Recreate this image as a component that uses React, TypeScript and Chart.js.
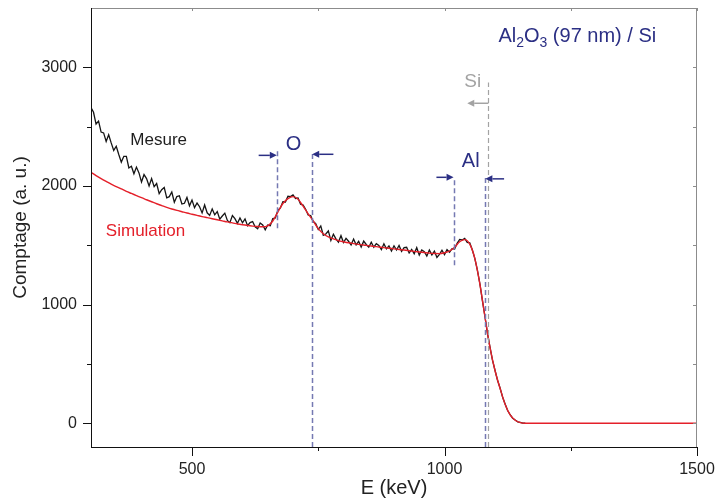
import React, { useEffect, useRef } from "react";
import { Chart, registerables } from "chart.js";

Chart.register(...registerables);

const FONT = "'Liberation Sans', Arial, Helvetica, sans-serif";

// ---- Data ----
// Measured RBS spectrum: channels every 5 keV starting at 300 keV
const MEASURED_START_KEV = 300;
const MEASURED_STEP_KEV = 5;
const measuredCounts = [
  2660, 2621, 2522, 2547, 2454, 2447, 2375, 2432, 2363, 2300,
  2335, 2265, 2201, 2250, 2249, 2152, 2166, 2103, 2159, 2110,
  2033, 2097, 2062, 2000, 2063, 1994, 2021, 1936, 1969, 1987,
  1900, 1910, 1949, 1863, 1911, 1918, 1848, 1854, 1903, 1833,
  1882, 1817, 1856, 1825, 1773, 1840, 1774, 1752, 1807, 1757,
  1784, 1720, 1747, 1771, 1710, 1691, 1750, 1725, 1685, 1730,
  1690, 1723, 1665, 1692, 1700, 1656, 1639, 1688, 1671, 1631,
  1671, 1665, 1725, 1730, 1795, 1815, 1867, 1865, 1913, 1910,
  1925, 1895, 1898, 1847, 1840, 1803, 1755, 1750, 1700, 1682,
  1633, 1663, 1585, 1595, 1622, 1541, 1593, 1554, 1527, 1581,
  1523, 1558, 1534, 1504, 1553, 1504, 1534, 1485, 1535, 1507,
  1484, 1527, 1484, 1514, 1499, 1463, 1513, 1470, 1495, 1452,
  1496, 1460, 1498, 1449, 1480, 1483, 1435, 1465, 1429, 1480,
  1418, 1461, 1446, 1410, 1460, 1419, 1451, 1397, 1423, 1458,
  1422, 1463, 1442, 1472, 1469, 1517, 1550, 1545, 1558, 1525,
  1520, 1462, 1390, 1293, 1178, 1036, 904, 758, 643, 532,
  447, 363, 297, 222, 163, 107, 72, 43, 27, 12,
  7, 2, 1,
];

// Simulated spectrum: every 10 keV from 300 keV, then flat zero to 1500 keV
const SIM_START_KEV = 300;
const SIM_STEP_KEV = 10;
const simulatedCounts = [
  2115, 2088, 2062, 2038, 2015, 1995, 1975, 1955, 1937, 1919,
  1901, 1884, 1867, 1850, 1835, 1820, 1806, 1794, 1783, 1772,
  1762, 1752, 1742, 1733, 1724, 1715, 1706, 1697, 1689, 1680,
  1673, 1667, 1662, 1658, 1656, 1664, 1705, 1780, 1852, 1893,
  1910, 1888, 1830, 1765, 1705, 1640, 1598, 1570, 1554, 1540,
  1530, 1521, 1514, 1508, 1502, 1497, 1491, 1486, 1480, 1475,
  1470, 1465, 1460, 1455, 1449, 1444, 1439, 1434, 1431, 1430,
  1437, 1452, 1484, 1530, 1548, 1510, 1390, 1175, 900, 640,
  445, 295, 160, 70, 25, 6, 0,
];
const simulatedTailEnergy = [1500];
const simulatedTailCounts = [0];

// Axes
const X_MIN = 300;
const X_MAX = 1500;
const Y_MIN = -200;
const Y_MAX = 3500;
const xTickValues = [500, 750, 1000, 1250, 1500];
const xTickLabelled = [500, 1000, 1500];
const yTickValues = [0, 500, 1000, 1500, 2000, 2500, 3000];
const yTickLabelled = [0, 1000, 2000, 3000];

// Surface edges (keV)
const oEdgeLow = 668;
const oEdgeHigh = 738;
const alEdgeLow = 1018;
const alEdgeHigh = 1081;
const siEdge = 1087;

// ---- Series built from the arrays ----
const measuredPoints = measuredCounts.map((c, i) => ({
  x: MEASURED_START_KEV + i * MEASURED_STEP_KEV,
  y: c,
}));
const simulatedPoints = simulatedCounts
  .map((c, i) => ({ x: SIM_START_KEV + i * SIM_STEP_KEV, y: c }))
  .concat(simulatedTailEnergy.map((e, i) => ({ x: e, y: simulatedTailCounts[i] })));

const NAVY = "#2b2f84";
const DASH_BLUE = "#7579b2";
const GRAY = "#a3a3a3";
const RED = "#e4202a";

function arrow(ctx: CanvasRenderingContext2D, x1: number, x2: number, y: number, color: string) {
  ctx.save();
  ctx.strokeStyle = color;
  ctx.fillStyle = color;
  ctx.lineWidth = 1.5;
  ctx.setLineDash([]);
  const dir = Math.sign(x2 - x1);
  const head = 7;
  ctx.beginPath();
  ctx.moveTo(x1, y);
  ctx.lineTo(x2 - dir * head, y);
  ctx.stroke();
  ctx.beginPath();
  ctx.moveTo(x2, y);
  ctx.lineTo(x2 - dir * head, y - 3.5);
  ctx.lineTo(x2 - dir * head, y + 3.5);
  ctx.closePath();
  ctx.fill();
  ctx.restore();
}

function dashed(ctx: CanvasRenderingContext2D, x: number, y1: number, y2: number, color: string, width: number) {
  ctx.save();
  ctx.strokeStyle = color;
  ctx.lineWidth = width;
  ctx.setLineDash([5, 3]);
  ctx.beginPath();
  ctx.moveTo(Math.round(x) + 0.5, y1);
  ctx.lineTo(Math.round(x) + 0.5, y2);
  ctx.stroke();
  ctx.restore();
}

const decorPlugin = {
  id: "decor",
  afterDatasetsDraw(chart: any) {
    const { ctx, chartArea: a, scales } = chart;
    const xs = scales.x;
    const ys = scales.y;
    const X = (v: number) => xs.getPixelForValue(v);
    const Y = (v: number) => ys.getPixelForValue(v);
    ctx.save();

    // edge markers
    dashed(ctx, X(oEdgeLow), Y(1643), Y(2300), DASH_BLUE, 1.5);
    dashed(ctx, X(oEdgeHigh), a.bottom, Y(2290), DASH_BLUE, 1.5);
    dashed(ctx, X(alEdgeLow), Y(1331), Y(2070), DASH_BLUE, 1.5);
    dashed(ctx, X(alEdgeHigh), a.bottom, Y(2070), DASH_BLUE, 1.5);
    dashed(ctx, X(siEdge), a.bottom, Y(2873), GRAY, 1.2);

    arrow(ctx, X(632), X(oEdgeLow), Y(2258), NAVY);
    arrow(ctx, X(780), X(oEdgeHigh), Y(2267), NAVY);
    arrow(ctx, X(984), X(alEdgeLow), Y(2073), NAVY);
    arrow(ctx, X(1118), X(alEdgeHigh), Y(2060), NAVY);
    arrow(ctx, X(siEdge), X(1045), Y(2697), GRAY);

    ctx.textAlign = "center";
    ctx.textBaseline = "middle";
    ctx.font = `20px ${FONT}`;
    ctx.fillStyle = NAVY;
    ctx.fillText("O", X(701), Y(2351));
    ctx.fillText("Al", X(1052), Y(2205));
    ctx.font = `19px ${FONT}`;
    ctx.fillStyle = GRAY;
    ctx.fillText("Si", X(1056), Y(2878));

    ctx.font = `17px ${FONT}`;
    ctx.fillStyle = "#1e1e1e";
    ctx.fillText("Mesure", X(434), Y(2385));
    ctx.fillStyle = RED;
    ctx.fillText("Simulation", X(408), Y(1622));

    // title with subscripts
    const parts = [
      { t: "Al", sub: false },
      { t: "2", sub: true },
      { t: "O", sub: false },
      { t: "3", sub: true },
      { t: " (97 nm) / Si", sub: false },
    ];
    const mainFont = `20px ${FONT}`;
    const subFont = `14px ${FONT}`;
    let total = 0;
    for (const p of parts) {
      ctx.font = p.sub ? subFont : mainFont;
      total += ctx.measureText(p.t).width;
    }
    let cx = X(1263) - total / 2;
    const base = Y(3215);
    ctx.textAlign = "left";
    ctx.textBaseline = "alphabetic";
    ctx.fillStyle = NAVY;
    for (const p of parts) {
      ctx.font = p.sub ? subFont : mainFont;
      ctx.fillText(p.t, cx, p.sub ? base + 5 : base);
      cx += ctx.measureText(p.t).width;
    }

    // frame
    ctx.setLineDash([]);
    ctx.lineWidth = 1;
    ctx.strokeStyle = "#8c8c8c";
    ctx.beginPath();
    ctx.moveTo(a.left, a.top + 0.5);
    ctx.lineTo(a.right, a.top + 0.5);
    ctx.moveTo(a.right - 0.5, a.top);
    ctx.lineTo(a.right - 0.5, a.bottom);
    for (const v of yTickValues) {
      const py = Math.round(Y(v)) + 0.5;
      ctx.moveTo(a.right, py);
      ctx.lineTo(a.right - 4, py);
    }
    for (const v of xTickValues) {
      const px = Math.round(X(v)) + 0.5;
      ctx.moveTo(px, a.top);
      ctx.lineTo(px, a.top + 3);
    }
    ctx.stroke();

    ctx.strokeStyle = "#111";
    ctx.beginPath();
    ctx.moveTo(a.left + 0.5, a.top);
    ctx.lineTo(a.left + 0.5, a.bottom + 1);
    ctx.moveTo(a.left, a.bottom + 0.5);
    ctx.lineTo(a.right, a.bottom + 0.5);
    for (const v of yTickValues) {
      const py = Math.round(Y(v)) + 0.5;
      const len = yTickLabelled.includes(v) ? 8 : 4;
      ctx.moveTo(a.left, py);
      ctx.lineTo(a.left - len, py);
    }
    for (const v of xTickValues) {
      const px = Math.round(X(v)) + 0.5;
      const len = xTickLabelled.includes(v) ? 9 : 4;
      ctx.moveTo(px, a.bottom);
      ctx.lineTo(px, a.bottom + len);
    }
    ctx.stroke();
    ctx.restore();
  },
};

export default function App() {
  const ref = useRef<HTMLCanvasElement>(null);
  useEffect(() => {
    if (!ref.current) return;
    const chart = new Chart(ref.current, {
      type: "line",
      data: {
        datasets: [
          {
            label: "Simulation",
            data: simulatedPoints,
            borderColor: RED,
            borderWidth: 1.4,
            pointRadius: 0,
            cubicInterpolationMode: "monotone",
            fill: false,
          },
          {
            label: "Mesure",
            data: measuredPoints,
            borderColor: "#151515",
            borderWidth: 1.3,
            pointRadius: 0,
            tension: 0,
            fill: false,
          },
        ],
      },
      options: {
        responsive: false,
        animation: false,
        devicePixelRatio: 1,
        layout: { padding: { top: 8, right: 19, left: 0, bottom: 0 } },
        plugins: {
          legend: { display: false },
          tooltip: { enabled: false },
          title: { display: false },
        },
        scales: {
          x: {
            type: "linear",
            min: X_MIN,
            max: X_MAX,
            grid: { display: false, drawTicks: false },
            border: { display: false },
            afterBuildTicks: (s: any) => {
              s.ticks = xTickValues.map((v) => ({ value: v }));
            },
            afterFit: (s: any) => {
              s.height = 54;
              s.paddingLeft = 0;
              s.paddingRight = 0;
            },
            ticks: {
              autoSkip: false,
              maxRotation: 0,
              padding: 13,
              color: "#222",
              font: { family: FONT, size: 16 },
              callback: (v: any) => (xTickLabelled.includes(Number(v)) ? String(v) : ""),
            },
            title: {
              display: true,
              text: "E (keV)",
              color: "#222",
              font: { family: FONT, size: 20 },
              padding: { top: 0, bottom: 1 },
            },
          },
          y: {
            type: "linear",
            min: Y_MIN,
            max: Y_MAX,
            grid: { display: false, drawTicks: false },
            border: { display: false },
            afterBuildTicks: (s: any) => {
              s.ticks = yTickValues.map((v) => ({ value: v }));
            },
            afterFit: (s: any) => {
              s.width = 91;
              s.paddingTop = 0;
              s.paddingBottom = 0;
            },
            ticks: {
              autoSkip: false,
              padding: 14,
              color: "#222",
              font: { family: FONT, size: 16 },
              callback: (v: any) => (yTickLabelled.includes(Number(v)) ? String(v) : ""),
            },
            title: {
              display: true,
              text: "Comptage (a. u.)",
              color: "#222",
              font: { family: FONT, size: 19 },
              padding: { top: 9, bottom: 0 },
            },
          },
        },
      },
      plugins: [decorPlugin],
    } as any);
    return () => chart.destroy();
  }, []);
  return (
    <div style={{ position: "absolute", left: 0, top: 0, width: 716, height: 501, background: "#fff" }}>
      <canvas ref={ref} width={716} height={501} style={{ display: "block" }} />
    </div>
  );
}
